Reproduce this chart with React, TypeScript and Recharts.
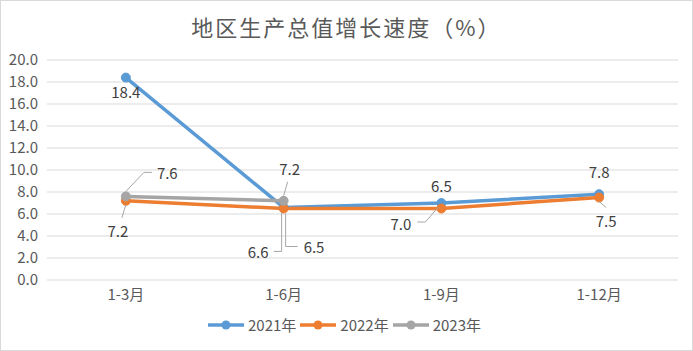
import { CartesianGrid, LabelList, Line, LineChart, XAxis, YAxis } from "recharts"

const periods = ["1-3月", "1-6月", "1-9月", "1-12月"]
const growth2021 = [18.4, 6.6, 7.0, 7.8]
const growth2022 = [7.2, 6.5, 6.5, 7.5]
const growth2023 = [7.6, 7.2, null, null]
const yTicks = [0, 2, 4, 6, 8, 10, 12, 14, 16, 18, 20]

const seriesList = [
  { key: "y2021", name: "2021年", color: "#5B9BD5" },
  { key: "y2022", name: "2022年", color: "#ED7D31" },
  { key: "y2023", name: "2023年", color: "#A5A5A5" },
]

const chartData = periods.map((period, i) => ({
  period,
  y2021: growth2021[i],
  y2022: growth2022[i],
  y2023: growth2023[i],
}))

const FONT = '"Noto Sans CJK SC", "Noto Sans", sans-serif'
const TEXT = "#595959"

type Placement = {
  dx: number
  dy: number
  anchor: "start" | "middle" | "end"
  leader?: Array<[number, number]>
}

// where each data label sits relative to its point, like excel had them
const labelSpots: Record<string, Array<Placement>> = {
  y2021: [
    { dx: 0, dy: 14, anchor: "middle" },
    { dx: -15, dy: 44, anchor: "end", leader: [[-2, 5], [-2, 44], [-10, 44]] },
    { dx: -30, dy: 20, anchor: "end", leader: [[-3, 4], [-16, 19], [-24, 19]] },
    { dx: 0, dy: -23, anchor: "middle" },
  ],
  y2022: [
    { dx: -8, dy: 30, anchor: "middle", leader: [[0, 4], [-4, 17]] },
    { dx: 20, dy: 38, anchor: "start", leader: [[2, 5], [2, 38], [14, 38]] },
    { dx: 0, dy: -23, anchor: "middle" },
    { dx: 7, dy: 23, anchor: "middle", leader: [[0, 4], [7, 10]] },
  ],
  y2023: [
    { dx: 31, dy: -24, anchor: "start", leader: [[0, -5], [18, -24], [26, -24]] },
    { dx: 6, dy: -32, anchor: "middle", leader: [[0, -5], [4, -19]] },
  ],
}

function makeLabel(key: string) {
  return (props: any) => {
    const { value, index } = props
    if (value == null) return null
    const x = props.x ?? props.viewBox?.x
    const y = props.y ?? props.viewBox?.y
    const spot = labelSpots[key][index]
    if (!spot || x == null || y == null) return null
    return (
      <g>
        {spot.leader && (
          <polyline
            points={spot.leader.map(([lx, ly]) => `${x + lx},${y + ly}`).join(" ")}
            fill="none"
            stroke="#A6A6A6"
            strokeWidth={1}
          />
        )}
        <text
          x={x + spot.dx}
          y={y + spot.dy}
          textAnchor={spot.anchor}
          dominantBaseline="central"
          fill="#404040"
          fontSize={15}
          fontFamily={FONT}
        >
          {Number(value).toFixed(1)}
        </text>
      </g>
    )
  }
}

function LegendRow() {
  return (
    <div style={{ display: "flex", justifyContent: "center", fontFamily: FONT, fontSize: 15, color: TEXT }}>
      {seriesList.map((s) => (
        <div key={s.key} style={{ display: "flex", alignItems: "center", marginRight: 4 }}>
          <svg width={36} height={10} style={{ marginRight: 4 }}>
            <line x1={0} y1={5} x2={36} y2={5} stroke={s.color} strokeWidth={3.5} />
            <circle cx={18} cy={5} r={4.5} fill={s.color} />
          </svg>
          <span>{s.name}</span>
        </div>
      ))}
    </div>
  )
}

export default function App() {
  return (
    <div style={{ position: "absolute", left: 0, top: 0, width: 693, height: 351, background: "#fff" }}>
      <div
        style={{
          position: "absolute",
          top: 10,
          left: 0,
          width: 693,
          textAlign: "center",
          fontFamily: FONT,
          fontSize: 22,
          letterSpacing: 2,
          color: TEXT,
        }}
      >
        地区生产总值增长速度（%）
      </div>
      <LineChart
        width={693}
        height={351}
        data={chartData}
        margin={{ top: 60, right: 15, left: 0, bottom: 41 }}
        style={{ position: "absolute", left: 0, top: 0 }}
      >
        <CartesianGrid stroke="#D9D9D9" vertical={false} />
        <XAxis
          dataKey="period"
          scale="band"
          axisLine={false}
          tickLine={false}
          height={30}
          tickMargin={3}
          interval={0}
          tick={{ fill: TEXT, fontSize: 15, fontFamily: FONT }}
        />
        <YAxis
          domain={[0, 20]}
          ticks={yTicks}
          interval={0}
          width={47}
          axisLine={false}
          tickLine={false}
          tickMargin={3}
          tickFormatter={(v: number) => v.toFixed(1)}
          tick={{ fill: TEXT, fontSize: 15, fontFamily: FONT }}
        />
        {seriesList.map((s) => (
          <Line
            key={s.key}
            dataKey={s.key}
            name={s.name}
            stroke={s.color}
            strokeWidth={3.5}
            dot={{ r: 4.5, fill: s.color, stroke: s.color, strokeWidth: 1 }}
            isAnimationActive={false}
          >
            <LabelList dataKey={s.key} content={makeLabel(s.key)} />
          </Line>
        ))}
      </LineChart>
      <div style={{ position: "absolute", left: 0, top: 314, width: 693 }}>
        <LegendRow />
      </div>
      <div
        style={{
          position: "absolute",
          left: 0,
          top: 0,
          width: 693,
          height: 351,
          boxSizing: "border-box",
          border: "1px solid #D9D9D9",
          pointerEvents: "none",
        }}
      />
    </div>
  )
}
